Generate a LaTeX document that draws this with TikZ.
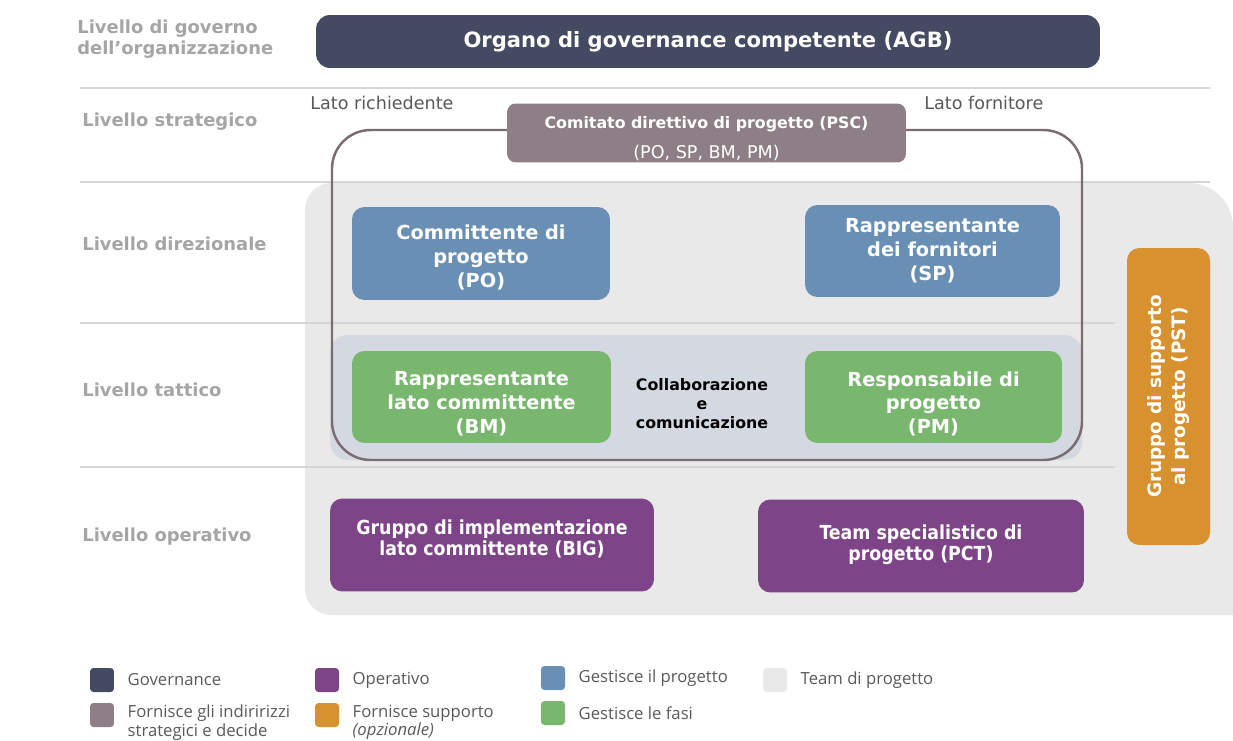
\documentclass[tikz,border=0pt]{standalone}
\usepackage{fontspec}
\setmainfont{DejaVu Sans}
\newfontfamily\condfont{DejaVu Sans Condensed}
\newfontfamily\legfont{Open Sans}
\usetikzlibrary{positioning}
\definecolor{govcol}{HTML}{454A63}
\definecolor{psccol}{HTML}{8D7F85}
\definecolor{linecol}{HTML}{7B6C72}
\definecolor{pmcol}{HTML}{6A8FB4}
\definecolor{phasecol}{HTML}{79B76E}
\definecolor{opcol}{HTML}{7E4488}
\definecolor{supcol}{HTML}{D8912F}
\definecolor{teamcol}{HTML}{EAE9E9}
\definecolor{bandcol}{HTML}{D3D8E1}
\definecolor{labgray}{HTML}{A5A5A5}
\definecolor{sepgray}{HTML}{D6D6D6}
\definecolor{textgray}{HTML}{595959}

\begin{document}
\begin{tikzpicture}[x=0.02cm, y=-0.02cm,
  box/.style={rounded corners=7pt, inner sep=0pt, text=white, align=center,
    font=\bfseries\fontsize{11}{13.6}\selectfont},
  opbox/.style={box, fill=opcol, minimum height=1.86cm,
    font=\condfont\bfseries\fontsize{11}{12}\selectfont},
  level/.style={anchor=west, inner sep=0pt, text=labgray, align=left,
    font=\bfseries\fontsize{10.2}{12}\selectfont},
  side/.style={anchor=west, inner sep=0pt, text=textgray, font=\fontsize{10}{12}\selectfont},
  sep/.style={draw=sepgray, line width=0.6pt},
  key/.style={minimum size=0.48cm, rounded corners=2pt, inner sep=0pt},
  keytext/.style={inner sep=0pt, text=textgray, align=left,
    font=\legfont\fontsize{9.5}{10.8}\selectfont}]

  \useasboundingbox (0,0) rectangle (1233,740);

  \fill[teamcol, rounded corners=15pt] (1233,615) -- (305,615) -- (305,183)
    [rounded corners=25pt] -- (1233,183) -- (1233,300);

  \draw[sep] (80,88) -- (1210,88);
  \draw[sep] (80,182) -- (1210,182);
  \draw[sep] (80,323) -- (1115,323);
  \draw[sep] (80,467) -- (1115,467);

  \fill[bandcol, rounded corners=10pt] (330,335) rectangle (1082,460);
  \draw[linecol, line width=1.4pt, rounded corners=22pt] (332,130) rectangle (1082,460);

  \node[level] (lgov) at (77,39) {Livello di governo\\dell’organizzazione};
  \node[level] (lstr) at (82,122) {Livello strategico};
  \node[level] (ldir) at (82,244) {Livello direzionale};
  \node[level] (ltat) at (82,390) {Livello tattico};
  \node[level] (lope) at (82,537) {Livello operativo};

  \node[box, fill=govcol, rounded corners=8pt, minimum width=15.68cm, minimum height=1.06cm,
    font=\bfseries\fontsize{12}{14}\selectfont] (agb) at (708,41.5)
    {Organo di governance competente (AGB)};

  \node[box, fill=psccol, rounded corners=5pt, minimum width=7.98cm, minimum height=1.18cm,
    font=\fontsize{9}{11}\selectfont] (psc) at (706.5,133)
    {\textbf{Comitato direttivo di progetto (PSC)}\\[6pt]{\fontsize{10}{12}\selectfont (PO, SP, BM, PM)}\\[-16pt]};
  \node[side] (rich) at (310,103) {Lato richiedente};
  \node[side] (forn) at (924,103) {Lato fornitore};

  \node[box, fill=pmcol, minimum width=5.16cm, minimum height=1.86cm] (po) at (481,253.5)
    {Committente di\\progetto\\(PO)\\[-17pt]};
  \node[box, fill=pmcol, minimum width=5.1cm, minimum height=1.84cm] (sp) at (932.5,251)
    {Rappresentante\\dei fornitori\\(SP)};
  \node[box, fill=phasecol, minimum width=5.18cm, minimum height=1.84cm] (bm) at (481.5,397)
    {Rappresentante\\lato committente\\(BM)\\[-20pt]};
  \node[box, fill=phasecol, minimum width=5.14cm, minimum height=1.84cm] (pm) at (933.5,397)
    {Responsabile di\\progetto\\(PM)\\[-20pt]};
  \node[align=center, inner sep=0pt, font=\bfseries\fontsize{9}{10.8}\selectfont] (coll) at (702,404)
    {Collaborazione\\e\\comunicazione};

  \node[opbox, minimum width=6.48cm] (big) at (492,545)
    {Gruppo di implementazione\\lato committente (BIG)\\[-4pt]};
  \node[opbox, minimum width=6.52cm] (pct) at (921,546)
    {Team specialistico di\\progetto (PCT)\\[-8.6pt]};

  \node[box, fill=supcol, rotate=90, minimum width=5.94cm, minimum height=1.66cm,
    font=\bfseries\fontsize{10.5}{14}\selectfont] (pst) at (1168.5,396.5)
    {Gruppo di supporto\\al progetto (PST)};

  % legenda
  \node[key, fill=govcol] (k1) at (102,680) {};
  \node[key, fill=psccol] (k2) at (102,715) {};
  \node[key, fill=opcol] (k3) at (327,680) {};
  \node[key, fill=supcol] (k4) at (327,715) {};
  \node[key, fill=pmcol] (k5) at (553,678) {};
  \node[key, fill=phasecol] (k6) at (553,713) {};
  \node[key, fill=teamcol] (k7) at (775,680) {};
  \node[keytext, right=0.26cm of k1] (t1) {Governance};
  \node[keytext, anchor=north west] (t2) at ([xshift=0.26cm, yshift=-1pt]k2.north east)
    {Fornisce gli indiririzzi\\strategici e decide};
  \node[keytext, right=0.26cm of k3] (t3) {Operativo};
  \node[keytext, anchor=north west] (t4) at ([xshift=0.26cm, yshift=-1pt]k4.north east)
    {Fornisce supporto\\\textit{(opzionale)}};
  \node[keytext, right=0.26cm of k5] (t5) {Gestisce il progetto};
  \node[keytext, right=0.26cm of k6] (t6) {Gestisce le fasi};
  \node[keytext, right=0.26cm of k7] (t7) {Team di progetto};
\end{tikzpicture}
\end{document}
